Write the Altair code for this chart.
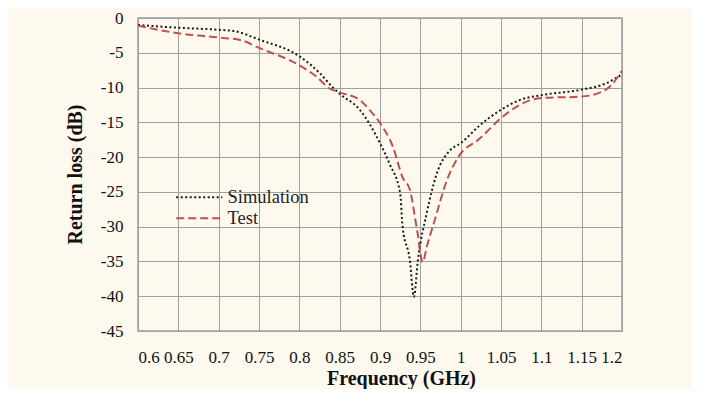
import altair as alt
import pandas as pd

sim_freq = [0.6, 0.65, 0.7, 0.72, 0.75, 0.8, 0.826, 0.84, 0.85, 0.875, 0.9, 0.912, 0.925,
            0.928, 0.937, 0.942, 0.947, 0.958, 0.97, 0.987, 1.0, 1.024, 1.05, 1.073, 1.1,
            1.15, 1.18, 1.2]
sim_rl = [-1.0, -1.4, -1.7, -1.9, -3.1, -5.5, -8.0, -9.8, -10.9, -13.2, -18.0, -21.0, -25.2,
          -30.0, -34.8, -40.1, -34.8, -28.0, -22.5, -19.0, -18.0, -15.4, -13.2, -11.8, -11.1,
          -10.3, -9.4, -8.1]

test_freq = [0.6, 0.65, 0.7, 0.728, 0.75, 0.8, 0.822, 0.837, 0.85, 0.875, 0.887, 0.9, 0.916,
             0.928, 0.937, 0.946, 0.953, 0.958, 0.968, 0.983, 0.997, 1.024, 1.05, 1.073, 1.1,
             1.15, 1.18, 1.2]
test_rl = [-1.1, -2.2, -2.8, -3.2, -4.3, -6.8, -8.5, -10.1, -10.7, -11.8, -13.2, -15.1, -18.5,
           -22.9, -24.7, -30.5, -35.1, -32.9, -29.0, -23.3, -20.0, -17.3, -14.4, -12.5, -11.5,
           -11.3, -10.3, -7.6]

series_names = ["Simulation", "Test"]
x_ticks = [0.6, 0.65, 0.7, 0.75, 0.8, 0.85, 0.9, 0.95, 1.0, 1.05, 1.1, 1.15, 1.2]
y_ticks = [0, -5, -10, -15, -20, -25, -30, -35, -40, -45]

df = pd.concat([
    pd.DataFrame({"f": sim_freq, "rl": sim_rl, "series": series_names[0], "order": range(len(sim_freq))}),
    pd.DataFrame({"f": test_freq, "rl": test_rl, "series": series_names[1], "order": range(len(test_freq))}),
])

FONT = "Liberation Serif"
GRID = "#A0A0A0"

chart = alt.Chart(df).mark_line(interpolate="monotone", strokeWidth=2).encode(
    x=alt.X("f:Q",
            scale=alt.Scale(domain=[0.6, 1.2], nice=False),
            axis=alt.Axis(values=x_ticks, labelExpr="'' + round(datum.value * 100) / 100",
                          title="Frequency (GHz)",
                          labelPadding=18, titleX=263, titleY=47, titleBaseline="middle")),
    y=alt.Y("rl:Q",
            scale=alt.Scale(domain=[-45, 0], nice=False),
            axis=alt.Axis(values=y_ticks, labelExpr="'' + datum.value",
                          title="Return loss (dB)", labelPadding=15,
                          titleX=-63, titleY=156, titleBaseline="middle")),
    color=alt.Color("series:N",
                    scale=alt.Scale(domain=series_names, range=["#1a1a1a", "#C0504D"]),
                    legend=alt.Legend(title=None, orient="none", legendX=52, legendY=170,
                                      symbolType="M-5,0H5", symbolSize=85,
                                      symbolStrokeWidth=2, labelOffset=19, rowPadding=2,
                                      labelFont=FONT, labelFontSize=18.5, labelColor="#222")),
    strokeDash=alt.StrokeDash("series:N",
                              scale=alt.Scale(domain=series_names, range=[[2, 2.5], [8, 4]]),
                              legend=None),
    order="order:Q",
).properties(
    width=484, height=313,
    background="#FEF9EE",
    padding={"left": 130, "top": 10, "right": 70, "bottom": 58},
    autosize=alt.AutoSizeParams(type="none"),
).configure_view(
    stroke=GRID, strokeWidth=1.5,
).configure_axis(
    grid=True, gridColor=GRID, gridWidth=1, gridOpacity=1,
    domainColor=GRID, ticks=False,
    labelFont=FONT, labelFontSize=17, labelColor="#111",
    titleFont=FONT, titleFontSize=20, titleFontWeight="bold", titleColor="#111",
)

chart.save("out.html", embed_options={"renderer": "svg", "actions": False})
